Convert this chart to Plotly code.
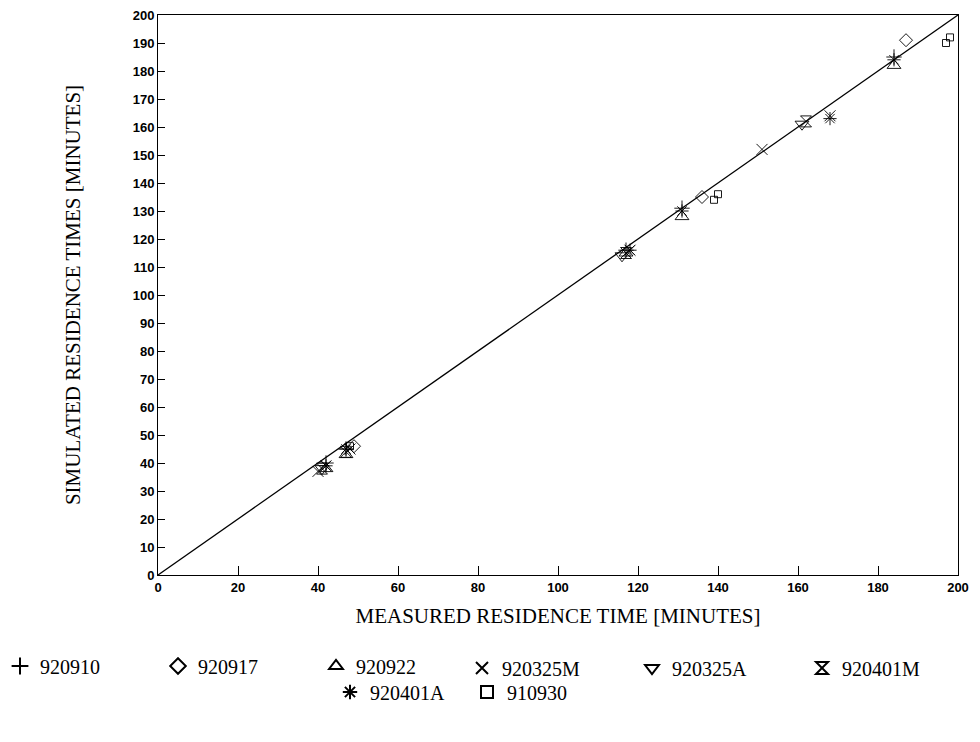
import plotly.graph_objects as go

series_names = ["920910", "920917", "920922", "920325M", "920325A", "920401M", "920401A", "910930"]
symbols = ["cross-thin-open", "diamond-open", "triangle-up-open", "x-thin-open",
           "triangle-down-open", "hourglass-open", "asterisk-open", "square-open"]
legend_ids = ["legend", "legend", "legend", "legend3", "legend3", "legend3", "legend2", "legend2"]

measured = {
    "920910": [42, 47, 117, 131, 184],
    "920917": [49, 136, 187],
    "920922": [42, 47, 117, 131, 184],
    "920325M": [40, 42, 48, 118, 151, 168],
    "920325A": [41, 116, 161],
    "920401M": [41, 47, 117, 162],
    "920401A": [42, 47, 118, 131, 168, 184],
    "910930": [48, 139, 140, 197, 198],
}
simulated = {
    "920910": [40, 45, 116, 131, 185],
    "920917": [46, 135, 191],
    "920922": [38, 43, 115, 128, 182],
    "920325M": [37, 39, 45, 116, 152, 164],
    "920325A": [38, 114, 161],
    "920401M": [38, 44, 115, 162],
    "920401A": [39, 45, 116, 130, 163, 184],
    "910930": [46, 134, 136, 190, 192],
}
sizes = [11, 10, 12, 11, 12, 11, 11, 7]

line_x = [0, 200]
line_y = [0, 200]

fig = go.Figure()
fig.add_trace(go.Scatter(x=line_x, y=line_y, mode="lines",
                         line=dict(color="black", width=1.3), showlegend=False,
                         hoverinfo="skip"))
for name, sym, sz, lg in zip(series_names, symbols, sizes, legend_ids):
    fig.add_trace(go.Scatter(
        x=measured[name], y=simulated[name], mode="markers", name=name,
        legend=lg,
        marker=dict(symbol=sym, size=sz, color="black",
                    line=dict(color="black", width=0.9)),
    ))

serif = "Liberation Serif, Times New Roman, serif"
sans = "Liberation Sans, Arial, sans-serif"
legend_font = dict(family=serif, size=20, color="black")


def leg(x_px, y_px, ew):
    return dict(orientation="h", xref="container", yref="container",
                x=x_px / 980, xanchor="left", y=1 - y_px / 742, yanchor="middle",
                font=legend_font, entrywidth=ew, entrywidthmode="pixels",
                itemsizing="constant", bgcolor="rgba(0,0,0,0)")


fig.update_layout(
    width=980, height=742,
    margin=dict(l=158, r=22, t=15, b=167),
    paper_bgcolor="white", plot_bgcolor="white",
    showlegend=True,
    legend=leg(0, 666, 113),
    legend3=leg(462, 668, 125),
    legend2=leg(330, 692, 92),
    xaxis=dict(range=[0, 200], tickvals=list(range(0, 201, 20)),
               automargin=False,
               showgrid=False, zeroline=False,
               showline=True, linecolor="black", linewidth=1, mirror=True,
               ticks="inside", ticklen=9, tickcolor="black",
               tickfont=dict(family=sans, size=13, color="black", weight="bold"),
               title=dict(text="MEASURED RESIDENCE TIME [MINUTES]",
                          font=dict(family=serif, size=21, color="black"),
                          standoff=14)),
    yaxis=dict(range=[0, 200], tickvals=list(range(0, 201, 10)),
               automargin=False,
               showgrid=False, zeroline=False,
               showline=True, linecolor="black", linewidth=1, mirror=True,
               ticks="inside", ticklen=7, tickcolor="black",
               tickfont=dict(family=sans, size=13, color="black", weight="bold"),
               title=dict(text="SIMULATED RESIDENCE TIMES [MINUTES]",
                          font=dict(family=serif, size=21, color="black"),
                          standoff=46)),
)

fig.write_html("out.html")
